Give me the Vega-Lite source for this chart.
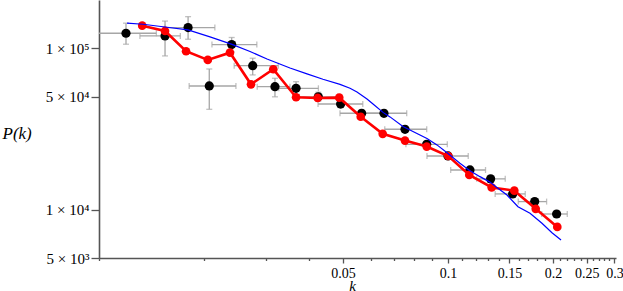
{
  "$schema": "https://vega.github.io/schema/vega-lite/v6.json",
  "width": 517,
  "height": 258,
  "autosize": {"type": "none"},
  "padding": {"left": 99, "top": 0, "right": 7, "bottom": 33},
  "background": "white",
  "config": {
    "view": {"stroke": null},
    "font": "Liberation Serif",
    "axis": {"grid": false, "domainColor": "#555555", "domainWidth": 1.6, "tickColor": "#555555", "tickWidth": 1.3, "labelFont": "Liberation Serif", "labelColor": "#000000", "titleFont": "Liberation Serif", "titleFontWeight": "normal", "titleFontStyle": "italic", "titleColor": "#000000"}
  },
  "datasets": {
    "black": [
      {"k": 0.01195, "P": 124300, "klo": 0.0098, "khi": 0.0146, "Plo": 106300, "Phi": 143600},
      {"k": 0.01546, "P": 119700, "klo": 0.0131, "khi": 0.0171, "Plo": 89900, "Phi": 148000},
      {"k": 0.0180, "P": 134800, "klo": 0.01546, "khi": 0.02148, "Plo": 114100, "Phi": 157600},
      {"k": 0.0207, "P": 58500, "klo": 0.01813, "khi": 0.02468, "Plo": 41900, "Phi": 74600},
      {"k": 0.0240, "P": 105700, "klo": 0.02107, "khi": 0.02833, "Plo": 95200, "Phi": 117000},
      {"k": 0.02757, "P": 78200, "klo": 0.0244, "khi": 0.03264, "Plo": 68500, "Phi": 87000},
      {"k": 0.03193, "P": 57900, "klo": 0.0284, "khi": 0.03526, "Plo": 50100, "Phi": 65300},
      {"k": 0.0367, "P": 56600, "klo": 0.03275, "khi": 0.04253, "Plo": 51500, "Phi": 62200},
      {"k": 0.0425, "P": 50100, "klo": 0.0375, "khi": 0.0483, "Plo": 47000, "Phi": 53500},
      {"k": 0.04925, "P": 45200, "klo": 0.04243, "khi": 0.0570, "Plo": 43000, "Phi": 47500},
      {"k": 0.05657, "P": 39600, "klo": 0.04904, "khi": 0.06478, "Plo": 37800, "Phi": 41400},
      {"k": 0.06555, "P": 39600, "klo": 0.05667, "khi": 0.07617, "Plo": 37800, "Phi": 41400},
      {"k": 0.07531, "P": 31500, "klo": 0.06589, "khi": 0.08691, "Plo": 30200, "Phi": 32900},
      {"k": 0.0869, "P": 25400, "klo": 0.07577, "khi": 0.09955, "Plo": 24300, "Phi": 26500},
      {"k": 0.1, "P": 21500, "klo": 0.08706, "khi": 0.1143, "Plo": 20600, "Phi": 22400},
      {"k": 0.1156, "P": 17600, "klo": 0.1018, "khi": 0.1281, "Plo": 16900, "Phi": 18300},
      {"k": 0.1325, "P": 15500, "klo": 0.1209, "khi": 0.1459, "Plo": 14900, "Phi": 16100},
      {"k": 0.1532, "P": 12500, "klo": 0.1365, "khi": 0.1665, "Plo": 12000, "Phi": 13000},
      {"k": 0.1772, "P": 11200, "klo": 0.1590, "khi": 0.1917, "Plo": 10750, "Phi": 11650},
      {"k": 0.2048, "P": 9380, "klo": 0.1856, "khi": 0.2197, "Plo": 9000, "Phi": 9760}
    ],
    "red": [
      {"k": 0.0133, "P": 138600}, {"k": 0.01546, "P": 128500}, {"k": 0.01776, "P": 96100},
      {"k": 0.0205, "P": 84900}, {"k": 0.02373, "P": 94200}, {"k": 0.02726, "P": 59900},
      {"k": 0.03158, "P": 74300}, {"k": 0.0367, "P": 49800}, {"k": 0.04233, "P": 49300},
      {"k": 0.0488, "P": 49500}, {"k": 0.05623, "P": 37700}, {"k": 0.065, "P": 29500},
      {"k": 0.0753, "P": 26800}, {"k": 0.0869, "P": 24600}, {"k": 0.1002, "P": 21500},
      {"k": 0.1151, "P": 16400}, {"k": 0.1334, "P": 13700}, {"k": 0.1549, "P": 13100},
      {"k": 0.1784, "P": 10100}, {"k": 0.2057, "P": 7800}
    ],
    "blue": [
      {"k": 0.01203, "P": 143500}, {"k": 0.01337, "P": 141400}, {"k": 0.01566, "P": 135500},
      {"k": 0.01799, "P": 130400}, {"k": 0.0208, "P": 118000}, {"k": 0.02405, "P": 106000},
      {"k": 0.02709, "P": 95800}, {"k": 0.0303, "P": 86100}, {"k": 0.03526, "P": 75700},
      {"k": 0.03945, "P": 69500}, {"k": 0.04383, "P": 64400}, {"k": 0.04904, "P": 59900},
      {"k": 0.05239, "P": 56600}, {"k": 0.05486, "P": 53700}, {"k": 0.05861, "P": 48600},
      {"k": 0.06098, "P": 45200}, {"k": 0.06513, "P": 40100}, {"k": 0.06822, "P": 37600},
      {"k": 0.0743, "P": 32800}, {"k": 0.08312, "P": 29000}, {"k": 0.08706, "P": 27600},
      {"k": 0.093, "P": 25200}, {"k": 0.1, "P": 22300}, {"k": 0.1082, "P": 19400},
      {"k": 0.1156, "P": 17400}, {"k": 0.1235, "P": 16000}, {"k": 0.1319, "P": 14800},
      {"k": 0.1381, "P": 13700}, {"k": 0.1476, "P": 12300}, {"k": 0.1587, "P": 10400},
      {"k": 0.1718, "P": 9480}, {"k": 0.1859, "P": 8210}, {"k": 0.1986, "P": 7180},
      {"k": 0.2108, "P": 6470}
    ]
  },
  "layer": [
    {
      "data": {"name": "black"},
      "mark": {"type": "errorbar", "ticks": {"size": 6, "color": "#a6a6a6", "strokeWidth": 1.3}, "color": "#a6a6a6", "thickness": 1.3, "clip": true},
      "encoding": {
        "x": {"field": "klo", "type": "quantitative", "title": "k", "scale": {"type": "log", "domain": [0.01, 0.303], "nice": false},
          "axis": {
            "values": [0.01,0.02,0.03,0.04,0.05,0.06,0.07,0.08,0.09,0.1,0.11,0.12,0.13,0.14,0.15,0.16,0.17,0.18,0.19,0.2,0.21,0.22,0.23,0.24,0.25,0.26,0.27,0.28,0.29,0.3],
            "labelExpr": "round(datum.value*100) % 5 == 0 ? format(datum.value, '~g') : ''",
            "tickSize": {"condition": {"test": "round(datum.value*100) % 5 == 0", "value": 5}, "value": 2.5},
            "labelOverlap": false, "labelFlush": false, "labelFontSize": 14, "labelPadding": 3,
            "title": "k", "titleFontSize": 15, "titleX": 253, "titleY": 32, "titleBaseline": "alphabetic"
          }},
        "x2": {"field": "khi"},
        "y": {"field": "P", "type": "quantitative", "title": "P(k)", "scale": {"type": "log", "domain": [5000, 200000], "nice": false},
          "axis": {
            "values": [5000, 10000, 50000, 100000],
            "labelExpr": "datum.value == 5000 ? '5 × 10³' : datum.value == 10000 ? '1 × 10⁴' : datum.value == 50000 ? '5 × 10⁴' : '1 × 10⁵'",
            "tickSize": 8, "labelPadding": 2, "labelFontSize": 15,
            "title": "P(k)", "titleAngle": 0, "titleFontSize": 17, "titleX": -97, "titleY": 133, "titleAlign": "left", "titleBaseline": "middle"
          }}
      }
    },
    {
      "data": {"name": "black"},
      "mark": {"type": "errorbar", "ticks": {"size": 6, "color": "#a6a6a6", "strokeWidth": 1.3}, "color": "#a6a6a6", "thickness": 1.3, "clip": true},
      "encoding": {
        "x": {"field": "k", "type": "quantitative", "title": "k"},
        "y": {"field": "Plo", "type": "quantitative", "title": "P(k)"},
        "y2": {"field": "Phi"}
      }
    },
    {
      "data": {"name": "black"},
      "mark": {"type": "circle", "color": "#000000", "size": 85, "opacity": 1},
      "encoding": {
        "x": {"field": "k", "type": "quantitative", "title": "k"},
        "y": {"field": "P", "type": "quantitative", "title": "P(k)"}
      }
    },
    {
      "data": {"name": "red"},
      "mark": {"type": "line", "color": "#ff0000", "strokeWidth": 2.6},
      "encoding": {
        "x": {"field": "k", "type": "quantitative", "title": "k"},
        "y": {"field": "P", "type": "quantitative", "title": "P(k)"}
      }
    },
    {
      "data": {"name": "red"},
      "mark": {"type": "circle", "color": "#ff0000", "size": 75, "opacity": 1},
      "encoding": {
        "x": {"field": "k", "type": "quantitative", "title": "k"},
        "y": {"field": "P", "type": "quantitative", "title": "P(k)"}
      }
    },
    {
      "data": {"name": "blue"},
      "mark": {"type": "line", "color": "#0000ff", "strokeWidth": 1.2},
      "encoding": {
        "x": {"field": "k", "type": "quantitative", "title": "k"},
        "y": {"field": "P", "type": "quantitative", "title": "P(k)"}
      }
    }
  ]
}
